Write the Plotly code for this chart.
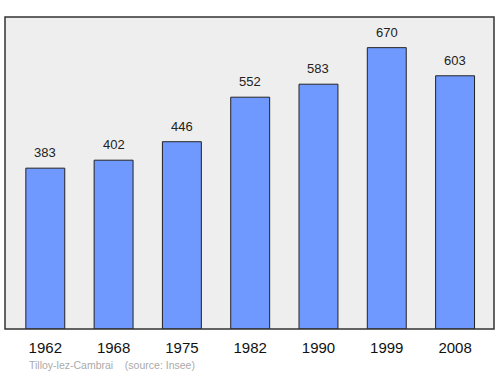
import plotly.graph_objects as go

years = ["1962", "1968", "1975", "1982", "1990", "1999", "2008"]
population = [383, 402, 446, 552, 583, 670, 603]

x_idx = list(range(len(years)))

fig = go.Figure()
fig.add_trace(go.Bar(
    x=x_idx, y=population, width=0.57,
    marker=dict(color="#7099ff", line=dict(color="#222222", width=1)),
    hoverinfo="skip",
))

for i, v in zip(x_idx, population):
    fig.add_annotation(x=i, y=v, text=str(v), showarrow=False,
                       yanchor="bottom", yshift=6,
                       font=dict(family="Liberation Sans, Arial, sans-serif", size=13, color="#222222"))

fig.add_annotation(xref="paper", yref="paper", x=0.046, y=-0.115, xanchor="left", yanchor="middle",
                   text="Tilloy-lez-Cambrai&nbsp;&nbsp;&nbsp;&nbsp;(source: Insee)", showarrow=False,
                   font=dict(family="Liberation Sans, Arial, sans-serif", size=10.5, color="#aaaaaa"))

fig.update_layout(
    width=500, height=374,
    margin=dict(l=5, r=6, t=17, b=45),
    paper_bgcolor="white", plot_bgcolor="#eeeeee",
    showlegend=False,
    xaxis=dict(range=[-0.59, 6.57], tickvals=x_idx, ticktext=years, showgrid=False, zeroline=False,
               ticks="", showline=False, ticklabelstandoff=8,
               tickfont=dict(family="Liberation Sans, Arial, sans-serif", size=15, color="#111111")),
    yaxis=dict(range=[0, 743], showticklabels=False, showgrid=False, zeroline=False, ticks=""),
    shapes=[dict(type="rect", xref="paper", yref="paper", x0=0, y0=0, x1=1, y1=1,
                 line=dict(color="#333333", width=1.5))],
)

fig.write_html("out.html", config={"displayModeBar": False},
               post_script="document.body.style.margin='0';document.body.style.overflow='hidden';")
